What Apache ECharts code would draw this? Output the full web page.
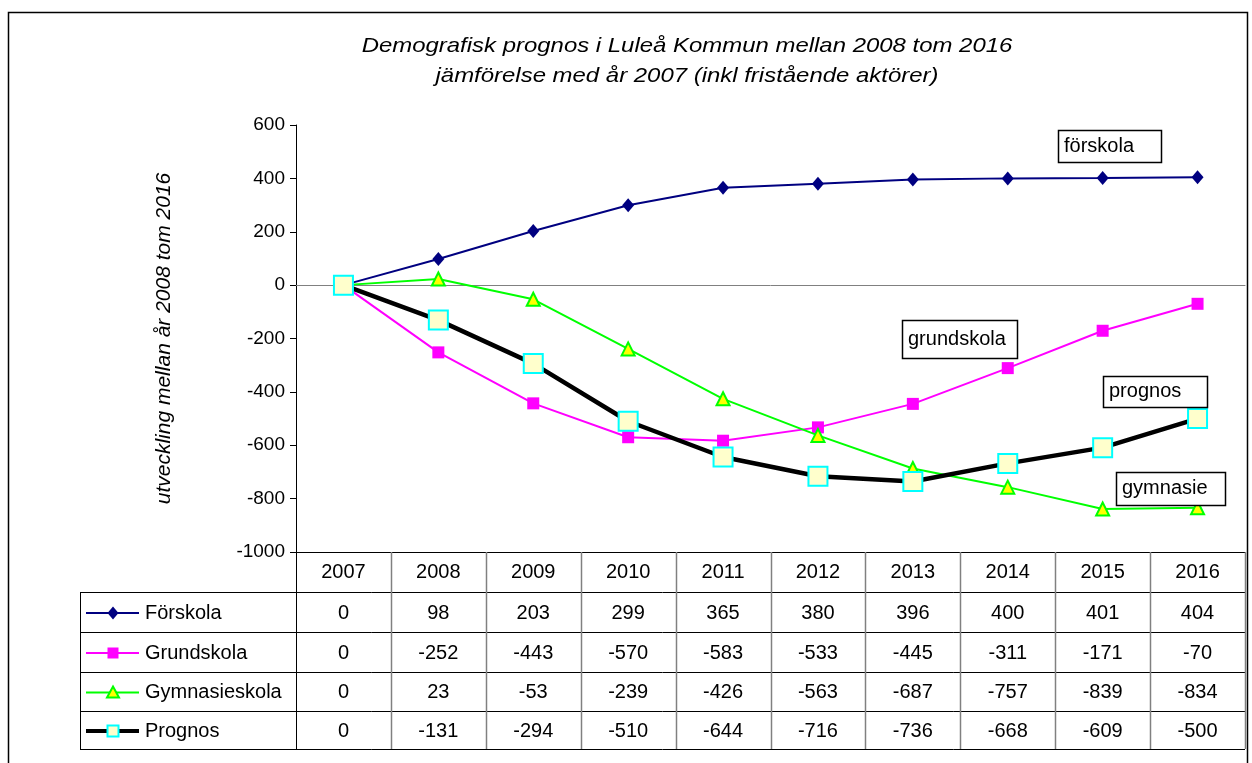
<!DOCTYPE html>
<html>
<head>
<meta charset="utf-8">
<title>Demografisk prognos Luleå</title>
<script src="https://cdn.jsdelivr.net/npm/echarts@6/dist/echarts.min.js"></script>
<style>
	html, body { margin: 0; padding: 0; background: #fff; }
	#main { width: 1252px; height: 763px; }
</style>
</head>
<body>
<div id="main"></div>
<script>
var years = ['2007', '2008', '2009', '2010', '2011', '2012', '2013', '2014', '2015', '2016'];
var forskola = [0, 98, 203, 299, 365, 380, 396, 400, 401, 404];
var grundskola = [0, -252, -443, -570, -583, -533, -445, -311, -171, -70];
var gymnasieskola = [0, 23, -53, -239, -426, -563, -687, -757, -839, -834];
var prognos = [0, -131, -294, -510, -644, -716, -736, -668, -609, -500];
var seriesNames = ['Förskola', 'Grundskola', 'Gymnasieskola', 'Prognos'];
var titleLines = ['Demografisk prognos i Luleå Kommun mellan 2008 tom 2016', 'jämförelse med år 2007 (inkl fristående aktörer)'];

var font = 'Liberation Sans, Arial, sans-serif';

// series look, same order as seriesNames
var looks = [
	{ line: '#000080', width: 2, symbol: 'diamond', size: [12, 14], fill: '#000080', border: '#000080', bw: 0 },
	{ line: '#ff00ff', width: 2, symbol: 'rect', size: 12, fill: '#ff00ff', border: '#ff00ff', bw: 0 },
	{ line: '#00ff00', width: 2, symbol: 'triangle', size: 13, fill: '#ffff00', border: '#00ff00', bw: 2 },
	{ line: '#000000', width: 4.5, symbol: 'rect', size: 19, fill: '#ffffcc', border: '#00ffff', bw: 2 }
];
var values = [forskola, grundskola, gymnasieskola, prognos];

var myChart = echarts.init(document.getElementById('main'));

var series = [];
for (var s = 0; s < values.length; s++) {
	var lk = looks[s];
	series.push({
		name: seriesNames[s],
		type: 'line',
		data: values[s],
		symbol: lk.symbol,
		symbolSize: lk.size,
		showAllSymbol: true,
		lineStyle: { color: lk.line, width: lk.width },
		itemStyle: { color: lk.fill, borderColor: lk.border, borderWidth: lk.bw, opacity: 1 },
		emphasis: { disabled: true },
		z: 2 + s,
		animation: false
	});
}

var option = {
	animation: false,
	grid: { left: 296, right: 7, top: 125, bottom: 211 },
	xAxis: {
		type: 'category',
		data: years,
		boundaryGap: true,
		axisLine: { onZero: true, lineStyle: { color: '#808080', width: 1 } },
		axisTick: { show: false },
		axisLabel: { show: false },
		splitLine: { show: false }
	},
	yAxis: {
		type: 'value',
		min: -1000,
		max: 600,
		interval: 200,
		name: 'utveckling mellan år 2008 tom 2016',
		nameLocation: 'middle',
		nameGap: 121,
		nameTextStyle: { fontFamily: font, fontSize: 21, fontStyle: 'italic', color: '#000' },
		axisLine: { show: true, lineStyle: { color: '#000', width: 1 } },
		axisTick: { show: true, inside: false, length: 6, lineStyle: { color: '#000' } },
		axisLabel: { fontFamily: font, fontSize: 19, color: '#000', margin: 11,
			formatter: function(v) { return String(v); } },
		splitLine: { show: false }
	},
	series: series
};
myChart.setOption(option);

// title, data table and notes, placed from the axis
function buildTable() {
	var els = [];
	var c0 = myChart.convertToPixel({ xAxisIndex: 0 }, 0);
	var c1 = myChart.convertToPixel({ xAxisIndex: 0 }, 1);
	var half = (c1 - c0) / 2;
	var plotLeft = 296, tableLeft = 80;
	var rowTops = [552, 592, 632, 672, 711, 749];
	var plotRight = myChart.convertToPixel({ xAxisIndex: 0 }, years.length - 1) + half;
	var cellFont = '20px ' + font;

	// outer frame
	els.push({ type: 'rect', shape: { x: 8.5, y: 12.5, width: 1239, height: 780 },
		style: { fill: 'none', stroke: '#000', lineWidth: 1.5 }, silent: true });

	// title, a little wide like the original
	for (var t = 0; t < titleLines.length; t++) {
		els.push({ type: 'text', x: 687, y: 46 + t * 30, scaleX: 1.14, originX: 0,
			style: { text: titleLines[t], font: 'italic 21px ' + font, fill: '#000', align: 'center', verticalAlign: 'middle' } });
	}

	// horizontal lines
	els.push({ type: 'line', shape: { x1: plotLeft, y1: rowTops[0] + 0.5, x2: plotRight, y2: rowTops[0] + 0.5 }, style: { stroke: '#000', lineWidth: 1 } });
	for (var r = 1; r < rowTops.length; r++) {
		els.push({ type: 'line', shape: { x1: tableLeft, y1: rowTops[r] + 0.5, x2: plotRight, y2: rowTops[r] + 0.5 }, style: { stroke: '#000', lineWidth: 1 } });
	}
	// vertical lines
	els.push({ type: 'line', shape: { x1: tableLeft + 0.5, y1: rowTops[1], x2: tableLeft + 0.5, y2: rowTops[5] }, style: { stroke: '#000', lineWidth: 1 } });
	els.push({ type: 'line', shape: { x1: plotLeft + 0.5, y1: rowTops[0], x2: plotLeft + 0.5, y2: rowTops[5] }, style: { stroke: '#000', lineWidth: 1 } });
	for (var i = 0; i < years.length; i++) {
		var xr = Math.round(myChart.convertToPixel({ xAxisIndex: 0 }, i) + half) + 0.5;
		els.push({ type: 'line', shape: { x1: xr, y1: rowTops[0], x2: xr, y2: rowTops[5] }, style: { stroke: '#808080', lineWidth: 1.5 } });
	}
	// year header
	for (var i = 0; i < years.length; i++) {
		var cx = myChart.convertToPixel({ xAxisIndex: 0 }, i);
		els.push({ type: 'text', x: cx, y: (rowTops[0] + rowTops[1]) / 2,
			style: { text: years[i], font: cellFont, fill: '#000', align: 'center', verticalAlign: 'middle' } });
	}
	// data rows
	for (var s = 0; s < values.length; s++) {
		var cy = (rowTops[s + 1] + rowTops[s + 2]) / 2 + 1;
		for (var i = 0; i < years.length; i++) {
			var cx = myChart.convertToPixel({ xAxisIndex: 0 }, i);
			els.push({ type: 'text', x: cx, y: cy,
				style: { text: String(values[s][i]), font: cellFont, fill: '#000', align: 'center', verticalAlign: 'middle' } });
		}
		// legend key
		var lk = looks[s];
		els.push({ type: 'line', shape: { x1: 86, y1: cy, x2: 139, y2: cy }, style: { stroke: lk.line, lineWidth: lk.width === 2 ? 2 : 4 } });
		if (lk.symbol === 'diamond') {
			els.push({ type: 'polygon', shape: { points: [[113, cy - 6.5], [118.5, cy], [113, cy + 6.5], [107.5, cy]] },
				style: { fill: lk.fill } });
		} else if (lk.symbol === 'triangle') {
			els.push({ type: 'polygon', shape: { points: [[113, cy - 6], [119, cy + 5], [107, cy + 5]] },
				style: { fill: lk.fill, stroke: lk.border, lineWidth: 2 } });
		} else {
			els.push({ type: 'rect', shape: { x: 107.5, y: cy - 5.5, width: 11, height: 11 },
				style: { fill: lk.fill, stroke: lk.bw ? lk.border : null, lineWidth: lk.bw } });
		}
		els.push({ type: 'text', x: 145, y: cy,
			style: { text: seriesNames[s], font: cellFont, fill: '#000', align: 'left', verticalAlign: 'middle' } });
	}

	// notes inside the plot
	var notes = [
		{ text: 'förskola', x: 1058, y: 130, w: 103, h: 32 },
		{ text: 'grundskola', x: 902, y: 320, w: 115, h: 38 },
		{ text: 'prognos', x: 1103, y: 376, w: 104, h: 31 },
		{ text: 'gymnasie', x: 1116, y: 472, w: 109, h: 33 }
	];
	for (var n = 0; n < notes.length; n++) {
		var nt = notes[n];
		els.push({ type: 'rect', shape: { x: nt.x + 0.5, y: nt.y + 0.5, width: nt.w, height: nt.h },
			style: { fill: '#fff', stroke: '#000', lineWidth: 1.5 }, z: 20 });
		els.push({ type: 'text', x: nt.x + 6, y: nt.y + nt.h / 2, z: 21,
			style: { text: nt.text, font: '20px ' + font, fill: '#000', align: 'left', verticalAlign: 'middle' } });
	}

	myChart.setOption({ graphic: { elements: els } });
}
buildTable();

window.onresize = function() {
	myChart.resize();
};
</script>
</body>
</html>
